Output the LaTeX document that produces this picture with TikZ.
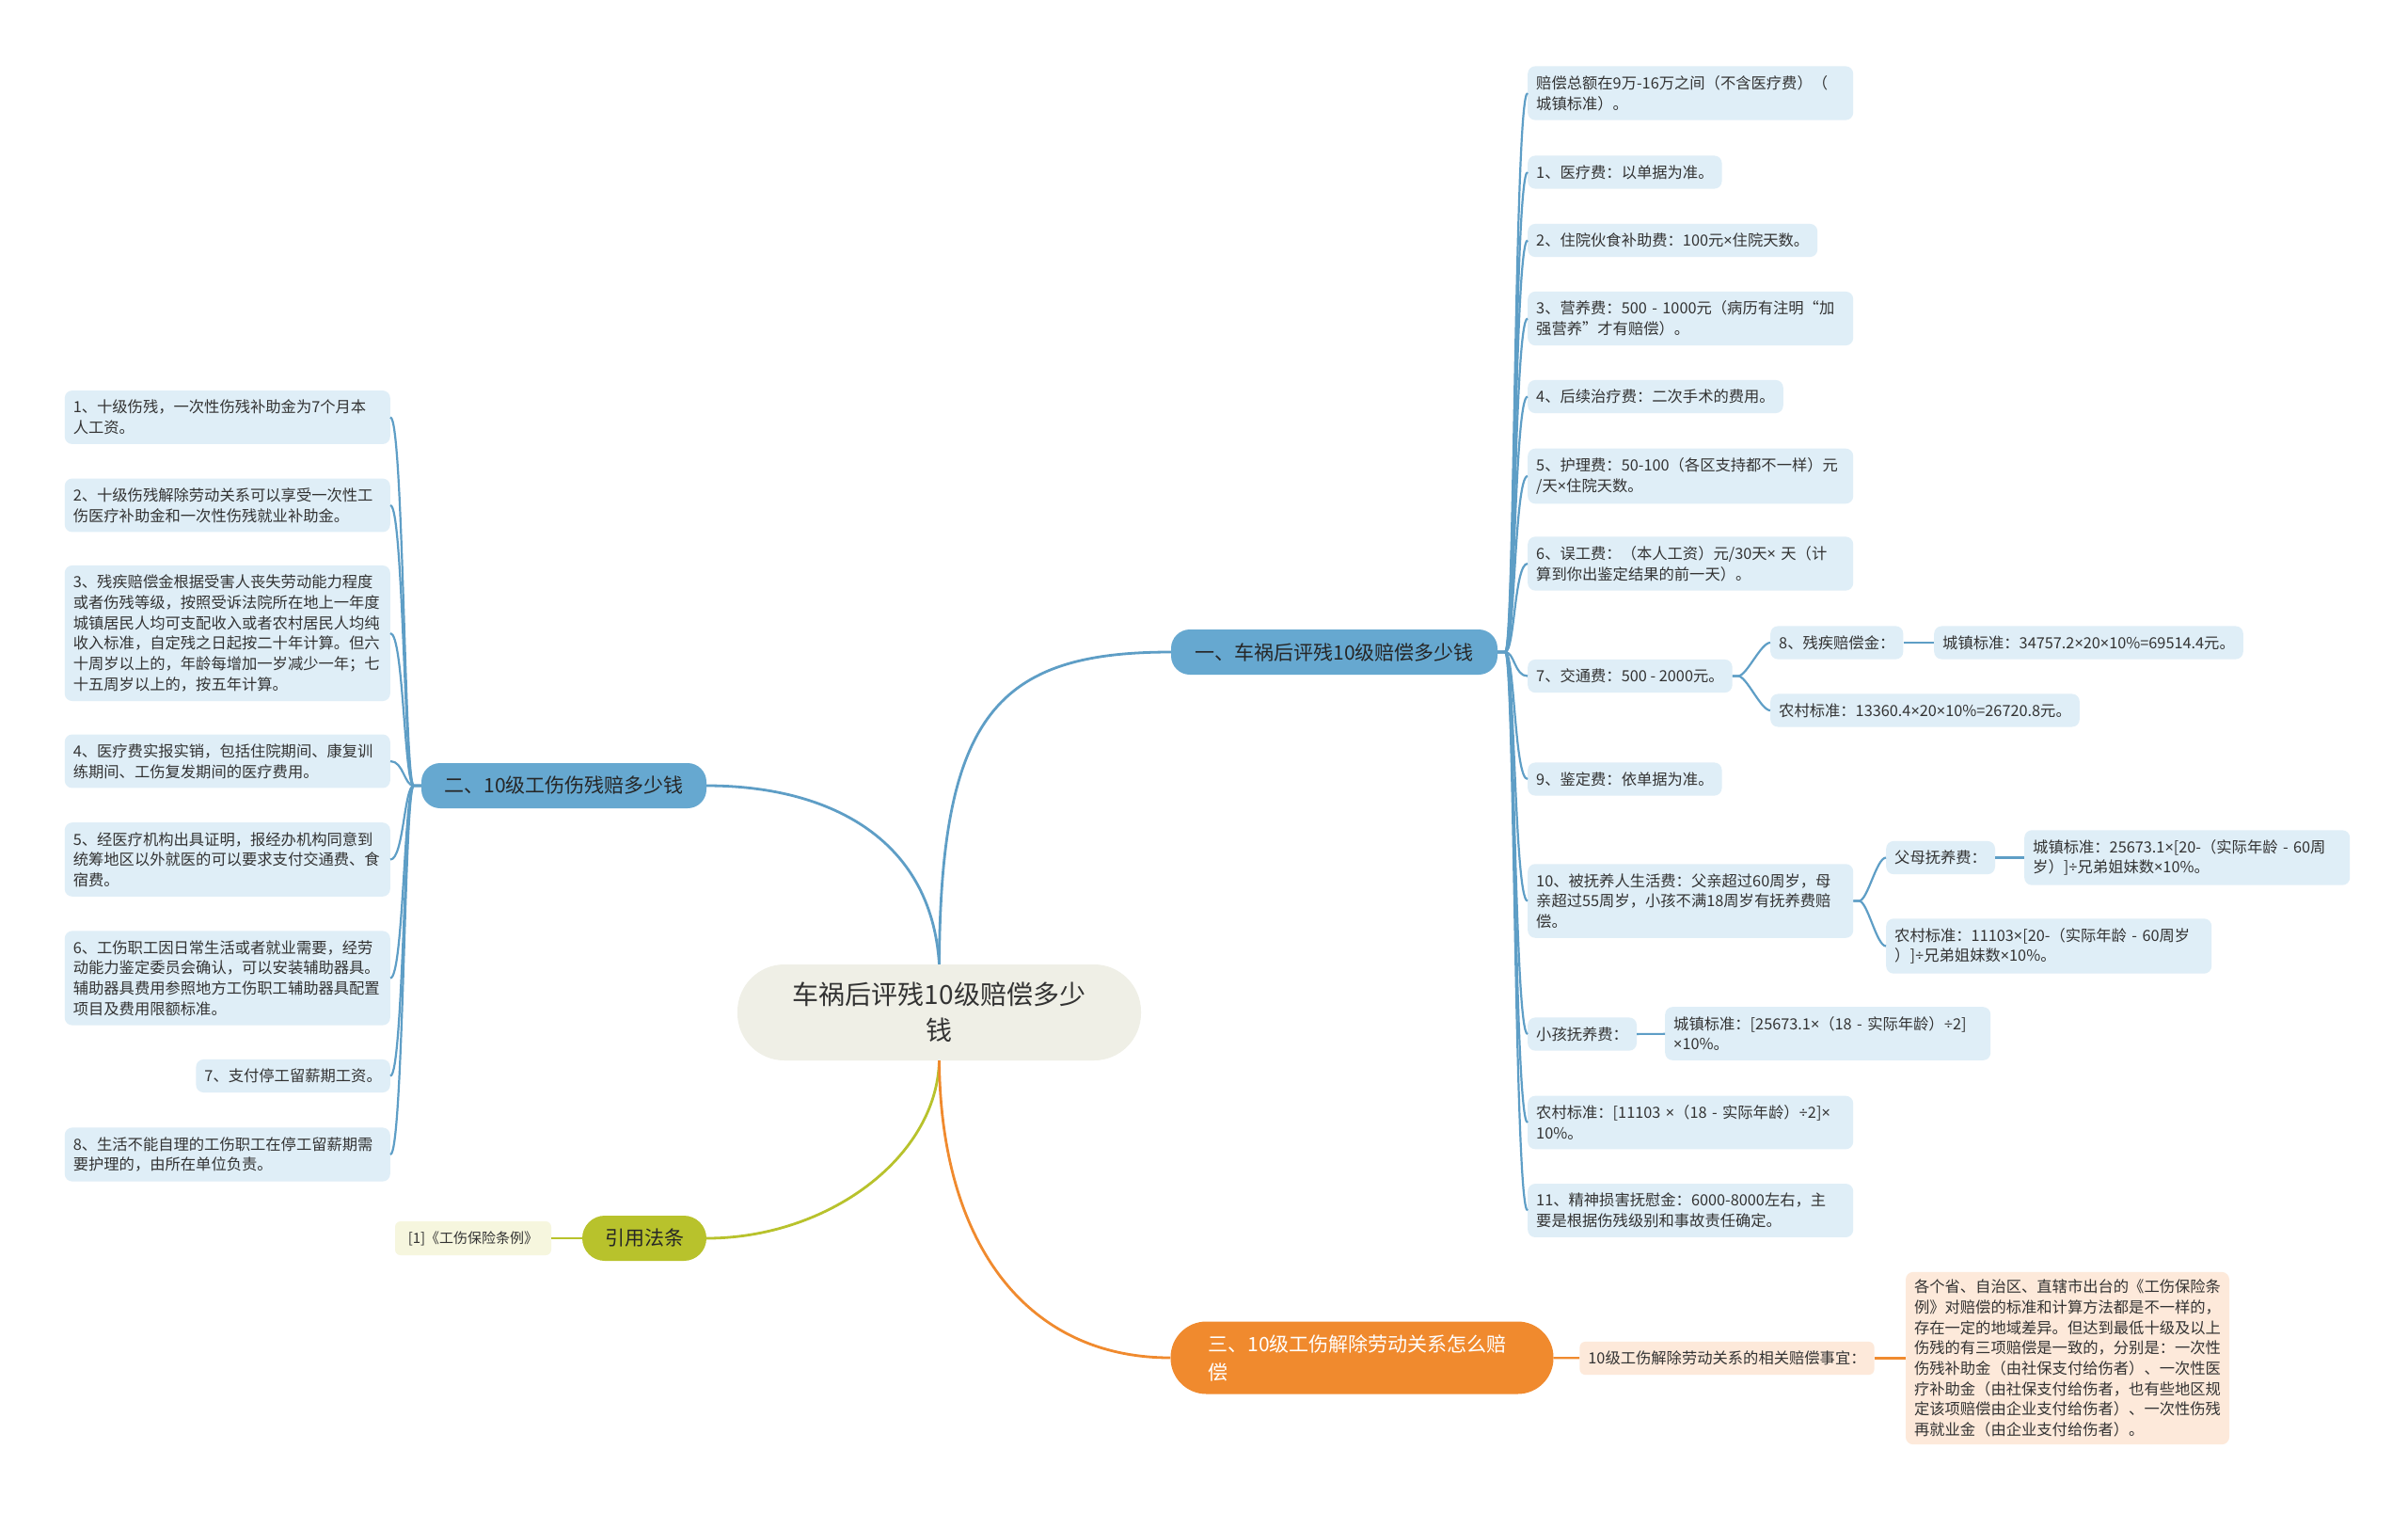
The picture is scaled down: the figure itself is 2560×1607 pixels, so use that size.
\documentclass[tikz,border=0pt]{standalone}
\usepackage{fontspec}
\setmainfont{Noto Sans CJK SC}
\newfontfamily\latf{Noto Sans}
\usepackage{xcolor}
\usepackage{tikz}

\exhyphenpenalty=10000
\hyphenpenalty=10000
\newcommand{\ctimes}{{\latf ×}}
\newcommand{\cdivd}{{\latf ÷}}

\definecolor{brblue}{HTML}{66A8D0}
\definecolor{lnblue}{HTML}{5E9EC6}
\definecolor{leafbg}{HTML}{DFEEF7}
\definecolor{centbg}{HTML}{EFEFE6}
\definecolor{lawgrn}{HTML}{B8C22C}
\definecolor{lawbg}{HTML}{F6F6DE}
\definecolor{orng}{HTML}{F08A2E}
\definecolor{peach}{HTML}{FDE9DA}
\definecolor{txtdark}{HTML}{333333}

\begin{document}
\begin{tikzpicture}[x=1pt, y=-1pt,
  every node/.style={font=\fontsize{16.3}{21.7}\selectfont, text=txtdark},
  leaf/.style={fill=leafbg, rounded corners=8pt, inner xsep=9pt, inner ysep=10pt, align=left},
  leafw/.style={leaf, text width=328pt},
  branch/.style={fill=brblue, rounded corners=20pt, minimum height=48pt, text=black!85,
    font=\fontsize{21}{28}\selectfont},
  blueln/.style={draw=lnblue, line width=2.2pt},
  mainln/.style={line width=2.8pt}]
  \useasboundingbox[fill=white] (0,0) rectangle (2560,1607);

  % central topic
  \node[fill=centbg, rounded corners=50pt, minimum width=429pt, minimum height=102pt, align=center,
    font=\fontsize{28}{38}\selectfont] (c) at (998.5,1076) {车祸后评残10级赔偿多少\\钱};

  % branches
  \node[branch, minimum width=347pt] (b1) at (1418.5,693) {一、车祸后评残10级赔偿多少钱};
  \node[branch, minimum width=303pt] (b2) at (599.5,835) {二、10级工伤伤残赔多少钱};
  \node[branch, fill=lawgrn, minimum width=132pt, rounded corners=24pt] (b4) at (685,1316) {引用法条};
  \node[branch, fill=orng, text=white, rounded corners=38pt, minimum height=77pt, inner xsep=40pt,
    text width=327pt, align=left, font=\fontsize{21}{30}\selectfont] (b3) at (1448,1443)
    {三、10级工伤解除劳动关系怎么赔\\偿};

  \draw[mainln, lnblue] (c.north) .. controls (1000,760) and (1060,693) .. (b1.west);
  \draw[mainln, lnblue] (c.north) .. controls (990,890) and (880,835) .. (b2.east);
  \draw[mainln, lawgrn] (c.south) .. controls (996,1230) and (880,1316) .. (b4.east);
  \draw[mainln, orng] (c.south) .. controls (1000,1320) and (1090,1443) .. (b3.west);

  % branch one
  \node[leafw, anchor=west] (r0) at (1624,99) {赔偿总额在9万-16万之间（不含医疗费）（\\城镇标准）。};
  \node[leaf, anchor=west] (r1) at (1624,183) {1、医疗费：以单据为准。};
  \node[leaf, anchor=west] (r2) at (1624,255.5) {2、住院伙食补助费：100元\ctimes 住院天数。};
  \node[leafw, anchor=west] (r3) at (1624,338.5) {3、营养费：500~-~1000元（病历有注明“加\\强营养”才有赔偿）。};
  \node[leaf, anchor=west] (r4) at (1624,421.5) {4、后续治疗费：二次手术的费用。};
  \node[leafw, anchor=west] (r5) at (1624,506) {5、护理费：50-100（各区支持都不一样）元\\/天\ctimes 住院天数。};
  \node[leafw, anchor=west] (r6) at (1624,599) {6、误工费：（本人工资）元/30天\ctimes~天（计\\算到你出鉴定结果的前一天）。};
  \node[leaf, anchor=west] (r7) at (1624,718.5) {7、交通费：500~-~2000元。};
  \node[leaf, anchor=west] (r7a) at (1882,683) {8、残疾赔偿金：};
  \node[leaf, anchor=west] (r7a1) at (2056,683) {城镇标准：34757.2\ctimes 20\ctimes 10\%=69514.4元。};
  \node[leaf, anchor=west] (r7b) at (1882,755) {农村标准：13360.4\ctimes 20\ctimes 10\%=26720.8元。};
  \node[leaf, anchor=west] (r9) at (1624,828) {9、鉴定费：依单据为准。};
  \node[leafw, anchor=west] (r10) at (1624,957.5) {10、被抚养人生活费：父亲超过60周岁，母\\亲超过55周岁，小孩不满18周岁有抚养费赔\\偿。};
  \node[leaf, anchor=west] (r10a) at (2005,911.5) {父母抚养费：};
  \node[leafw, anchor=west] (r10a1) at (2152,911.5) {城镇标准：25673.1\ctimes[20-（实际年龄~-~60周\\岁）]\cdivd 兄弟姐妹数\ctimes 10\%。};
  \node[leafw, anchor=west] (r10b) at (2005,1005.5) {农村标准：11103\ctimes[20-（实际年龄~-~60周岁\\）]\cdivd 兄弟姐妹数\ctimes 10\%。};
  \node[leaf, anchor=west] (r11) at (1624,1099) {小孩抚养费：};
  \node[leafw, anchor=west] (r11a) at (1770,1098.5) {城镇标准：[25673.1\ctimes（18~-~实际年龄）\cdivd 2]\\\ctimes 10\%。};
  \node[leafw, anchor=west] (r12) at (1624,1193) {农村标准：[11103~\ctimes（18~-~实际年龄）\cdivd 2]\ctimes\\10\%。};
  \node[leafw, anchor=west] (r13) at (1624,1286.5) {11、精神损害抚慰金：6000-8000左右，主\\要是根据伤残级别和事故责任确定。};

  \foreach \n in {r0,r1,r2,r3,r4,r5,r6,r7,r9,r10,r11,r12,r13}
    \draw[blueln] (b1.east) -- ++(8,0) .. controls +(10,0) and ([xshift=-14pt]\n.west) .. (\n.west);
  \foreach \n in {r7a,r7b}
    \draw[blueln] (r7.east) -- ++(6,0) .. controls +(9,0) and ([xshift=-10pt]\n.west) .. (\n.west);
  \foreach \n in {r10a,r10b}
    \draw[blueln] (r10.east) -- ++(6,0) .. controls +(9,0) and ([xshift=-10pt]\n.west) .. (\n.west);
  \draw[blueln] (r7a) -- (r7a1);
  \draw[blueln] (r10a) -- (r10a1);
  \draw[blueln] (r11) -- (r11a);

  % branch two
  \node[leafw, anchor=east] (l1) at (415,443.5) {1、十级伤残，一次性伤残补助金为7个月本\\人工资。};
  \node[leafw, anchor=east] (l2) at (415,537) {2、十级伤残解除劳动关系可以享受一次性工\\伤医疗补助金和一次性伤残就业补助金。};
  \node[leafw, anchor=east] (l3) at (415,673) {3、残疾赔偿金根据受害人丧失劳动能力程度\\或者伤残等级，按照受诉法院所在地上一年度\\城镇居民人均可支配收入或者农村居民人均纯\\收入标准，自定残之日起按二十年计算。但六\\十周岁以上的，年龄每增加一岁减少一年；七\\十五周岁以上的，按五年计算。};
  \node[leafw, anchor=east] (l4) at (415,809) {4、医疗费实报实销，包括住院期间、康复训\\练期间、工伤复发期间的医疗费用。};
  \node[leafw, anchor=east] (l5) at (415,913.5) {5、经医疗机构出具证明，报经办机构同意到\\统筹地区以外就医的可以要求支付交通费、食\\宿费。};
  \node[leafw, anchor=east] (l6) at (415,1039.5) {6、工伤职工因日常生活或者就业需要，经劳\\动能力鉴定委员会确认，可以安装辅助器具。\\辅助器具费用参照地方工伤职工辅助器具配置\\项目及费用限额标准。};
  \node[leaf, anchor=east] (l7) at (415,1143.5) {7、支付停工留薪期工资。};
  \node[leafw, anchor=east] (l8) at (415,1227) {8、生活不能自理的工伤职工在停工留薪期需\\要护理的，由所在单位负责。};

  \foreach \n in {l1,l2,l3,l4,l5,l6,l7,l8}
    \draw[blueln] (b2.west) -- ++(-8,0) .. controls +(-10,0) and ([xshift=14pt]\n.east) .. (\n.east);

  % law reference
  \node[fill=lawbg, rounded corners=6pt, minimum width=166pt, minimum height=36pt,
    font=\fontsize{15}{20}\selectfont] (law1) at (503,1316) {[1]《工伤保险条例》};
  \draw[line width=2.2pt, lawgrn] (b4) -- (law1);

  % branch three
  \node[fill=peach, rounded corners=6pt, inner xsep=9pt, inner ysep=10pt] (o1) at (1836,1443.5)
    {10级工伤解除劳动关系的相关赔偿事宜：};
  \node[fill=peach, rounded corners=8pt, inner xsep=9pt, inner ysep=8pt, text width=326pt, align=left]
    (o2) at (2198,1443.5)
    {各个省、自治区、直辖市出台的《工伤保险条\\例》对赔偿的标准和计算方法都是不一样的，\\存在一定的地域差异。但达到最低十级及以上\\伤残的有三项赔偿是一致的，分别是：一次性\\伤残补助金（由社保支付给伤者）、一次性医\\疗补助金（由社保支付给伤者，也有些地区规\\定该项赔偿由企业支付给伤者）、一次性伤残\\再就业金（由企业支付给伤者）。};
  \draw[line width=2.2pt, orng] (b3) -- (o1);
  \draw[line width=2.2pt, orng] (o1) -- (o2);
\end{tikzpicture}
\end{document}
